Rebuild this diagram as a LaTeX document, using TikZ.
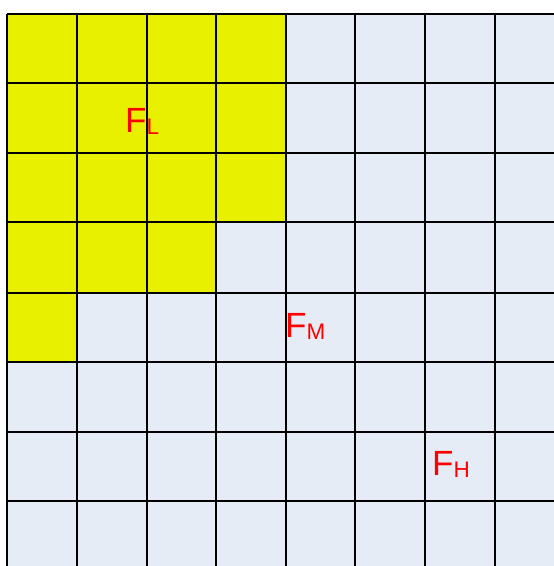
\documentclass[tikz,border=0pt]{standalone}
\usepackage{fontspec}
\setmainfont{Liberation Sans}
\definecolor{cellblue}{RGB}{230,236,246}
\definecolor{cellyellow}{RGB}{232,240,0}
\definecolor{labred}{RGB}{255,0,0}
\tikzset{
  gridline/.style={black, line width=1.2pt},
  lab/.style={anchor=base west, inner sep=0pt, text=labred},
}
\newcommand{\bigF}[1]{{\fontsize{35}{35}\selectfont F}\raisebox{-2pt}{\fontsize{22.5}{22.5}\selectfont #1}}
\begin{document}
\begin{tikzpicture}[x=1pt,y=-1pt]
\useasboundingbox (0,0) rectangle (554,566);
\fill[white] (0,0) rectangle (554,566);
\fill[cellblue] (7,14) rectangle (554,566);
\fill[cellyellow] (7,14) -- (286,14) -- (286,222) -- (216,222) -- (216,293) -- (77,293) -- (77,362) -- (7,362) -- cycle;
\foreach \x in {7,77,147,216,286,355,425,495} \draw[gridline] (\x,14) -- (\x,566);
\foreach \y in {14,83,153,222,293,362,432,501} \draw[gridline] (7,\y) -- (554,\y);
\node[lab] (fl) at (125,132) {\bigF{L}};
\node[lab] (fm) at (285,337) {\bigF{M}};
\node[lab] (fh) at (432,475) {\bigF{H}};
\end{tikzpicture}
\end{document}
